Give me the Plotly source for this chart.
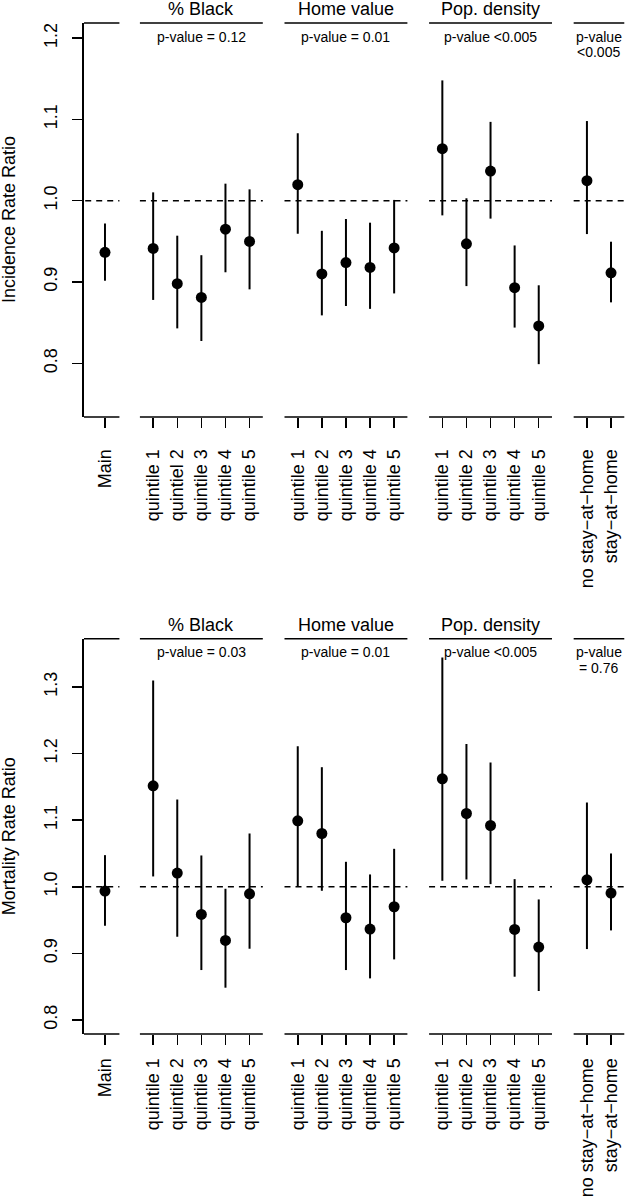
import plotly.graph_objects as go

# ---------------- data ----------------
group_sizes = [1, 5, 5, 5, 2]
group_names = ["", "% Black", "Home value", "Pop. density", ""]

top_labels = ["Main",
              "quintile 1", "quintiel 2", "quintile 3", "quintile 4", "quintile 5",
              "quintile 1", "quintile 2", "quintile 3", "quintile 4", "quintile 5",
              "quintile 1", "quintile 2", "quintile 3", "quintile 4", "quintile 5",
              "no stay\u2212at\u2212home", "stay\u2212at\u2212home"]
bottom_labels = ["Main",
                 "quintile 1", "quintile 2", "quintile 3", "quintile 4", "quintile 5",
                 "quintile 1", "quintile 2", "quintile 3", "quintile 4", "quintile 5",
                 "quintile 1", "quintile 2", "quintile 3", "quintile 4", "quintile 5",
                 "no stay\u2212at\u2212home", "stay\u2212at\u2212home"]

top_est = [0.9365, 0.9414, 0.898, 0.881, 0.965, 0.950, 1.0197, 0.910, 0.924, 0.918, 0.942,
           1.064, 0.947, 1.0365, 0.893, 0.846, 1.0246, 0.9114]
top_lo = [0.9016, 0.878, 0.843, 0.8275, 0.912, 0.891, 0.9594, 0.859, 0.8705, 0.867, 0.886,
          0.982, 0.895, 0.978, 0.844, 0.799, 0.959, 0.875]
top_hi = [0.972, 1.0103, 0.957, 0.933, 1.021, 1.014, 1.083, 0.963, 0.9775, 0.973, 1.001,
          1.148, 1.003, 1.097, 0.945, 0.896, 1.098, 0.9496]

bot_est = [0.9935, 1.1515, 1.0205, 0.9585, 0.9195, 0.9895, 1.099, 1.080, 0.9535, 0.9365, 0.970,
           1.162, 1.110, 1.092, 0.936, 0.9095, 1.0105, 0.9905]
bot_lo = [0.9415, 1.0155, 0.925, 0.875, 0.8485, 0.907, 1.000, 0.994, 0.875, 0.8625, 0.891,
          1.009, 1.011, 1.004, 0.865, 0.8435, 0.9065, 0.9345]
bot_hi = [1.0475, 1.3096, 1.131, 1.047, 0.997, 1.080, 1.211, 1.1795, 1.0375, 1.0185, 1.057,
          1.344, 1.2145, 1.1865, 1.0115, 0.981, 1.1265, 1.050]

top_pvals = [None, ["p-value = 0.12"], ["p-value = 0.01"], ["p-value &lt;0.005"], ["p-value", "&lt;0.005"]]
bot_pvals = [None, ["p-value = 0.03"], ["p-value = 0.01"], ["p-value &lt;0.005"], ["p-value", "= 0.76"]]

top_ticks = [0.8, 0.9, 1.0, 1.1, 1.2]
bot_ticks = [0.8, 0.9, 1.0, 1.1, 1.2, 1.3]
top_title = "Incidence Rate Ratio"
bot_title = "Mortality Rate Ratio"

# ---------------- layout helpers ----------------
W, H = 625, 1199
L = 84
FONT = "Liberation Sans, Arial, Helvetica, sans-serif"


def px2x(px):
    return (px - L) / (W - L)


def py2y(py):
    return 1 - py / H


# positions of the categories (gap of one slot between groups)
positions = []
groups = []
p = 1
for s in group_sizes:
    g = []
    for _ in range(s):
        positions.append(p)
        g.append(p)
        p += 1
    groups.append(g)
    p += 1

XR = [0.13, 22.58]

panels = [
    dict(est=top_est, lo=top_lo, hi=top_hi, labels=top_labels, pvals=top_pvals, ticks=top_ticks,
         title=top_title, top=23, bottom=417, yr=[0.734, 1.2186],
         head_c=8.5, p1_c=37, p2_c=52, standoff=14),
    dict(est=bot_est, lo=bot_lo, hi=bot_hi, labels=bottom_labels, pvals=bot_pvals,
         ticks=bot_ticks, title=bot_title, top=638.7, bottom=1034, yr=[0.779, 1.3724],
         head_c=625, p1_c=651.5, p2_c=667.5, standoff=6),
]

fig = go.Figure()
layout = dict(width=W, height=H, margin=dict(l=L, r=0, t=0, b=0),
              paper_bgcolor="white", plot_bgcolor="white", showlegend=False,
              font=dict(family=FONT, color="black", size=18))
shapes = []
annotations = []

for i, pn in enumerate(panels):
    sfx = "" if i == 0 else str(i + 1)
    xa, ya = "x" + sfx, "y" + sfx
    fig.add_trace(go.Scatter(
        x=positions, y=pn["est"], xaxis=xa, yaxis=ya, mode="markers",
        marker=dict(size=11, color="black"),
        error_y=dict(type="data", symmetric=False,
                     array=[h - e for h, e in zip(pn["hi"], pn["est"])],
                     arrayminus=[e - l for e, l in zip(pn["est"], pn["lo"])],
                     color="black", thickness=2, width=0),
        hoverinfo="skip"))

    layout["xaxis" + sfx] = dict(
        domain=[0, 1], range=XR, anchor=ya, tickmode="array", tickvals=positions,
        ticktext=pn["labels"], tickangle=-90, ticks="outside", ticklen=10, tickwidth=1.5,
        tickcolor="black", showline=False, showgrid=False, zeroline=False,
        tickfont=dict(family=FONT, size=18, color="black"), ticklabelstandoff=pn["standoff"],
        automargin=False, fixedrange=True)
    layout["yaxis" + sfx] = dict(
        domain=[py2y(pn["bottom"]), py2y(pn["top"])], range=pn["yr"], anchor=xa,
        tickmode="array", tickvals=pn["ticks"], ticktext=["%.1f" % t for t in pn["ticks"]],
        tickangle=-90, ticks="outside", ticklen=10, tickwidth=1.5, tickcolor="black",
        showline=True, linewidth=1.6, linecolor="black", showgrid=False, zeroline=False,
        tickfont=dict(family=FONT, size=18, color="black"), ticklabelstandoff=8,
        automargin=False, fixedrange=True)

    for gi, g in enumerate(groups):
        x0 = XR[0] if gi == 0 else g[0] - 0.55
        x1 = g[-1] + 0.6 if gi == 0 else g[-1] + 0.55
        for yd in (0, 1):
            shapes.append(dict(type="line", xref=xa, yref=ya + " domain", x0=x0, x1=x1,
                               y0=yd, y1=yd, line=dict(color="black", width=1.6)))
        shapes.append(dict(type="line", xref=xa, yref=ya, x0=x0 if gi else XR[0] + 0.05, x1=x1,
                           y0=1.0, y1=1.0, line=dict(color="black", width=1.5, dash="6px,5px")))
        xc = (g[0] + g[-1]) / 2
        if group_names[gi]:
            annotations.append(dict(text=group_names[gi], xref=xa, yref="paper", x=xc,
                                    y=py2y(pn["head_c"]), yanchor="middle", xanchor="center",
                                    showarrow=False, font=dict(size=18, family=FONT)))
        pv = pn["pvals"][gi]
        if pv:
            for li, t in enumerate(pv):
                yc = pn["p1_c"] if li == 0 else pn["p2_c"]
                annotations.append(dict(text=t, xref=xa, yref="paper", x=xc,
                                        y=py2y(yc), yanchor="middle", xanchor="center",
                                        showarrow=False, font=dict(size=14, family=FONT)))

    annotations.append(dict(text=pn["title"], xref="paper", yref="paper", x=px2x(9),
                            y=py2y((pn["top"] + pn["bottom"]) / 2), textangle=-90,
                            xanchor="center", yanchor="middle", showarrow=False,
                            font=dict(size=18, family=FONT)))

layout["shapes"] = shapes
layout["annotations"] = annotations
fig.update_layout(**layout)
fig.write_html("out.html", config={"displayModeBar": False, "staticPlot": True},
               post_script="document.body.style.margin='0px';document.body.style.overflow='hidden';")
